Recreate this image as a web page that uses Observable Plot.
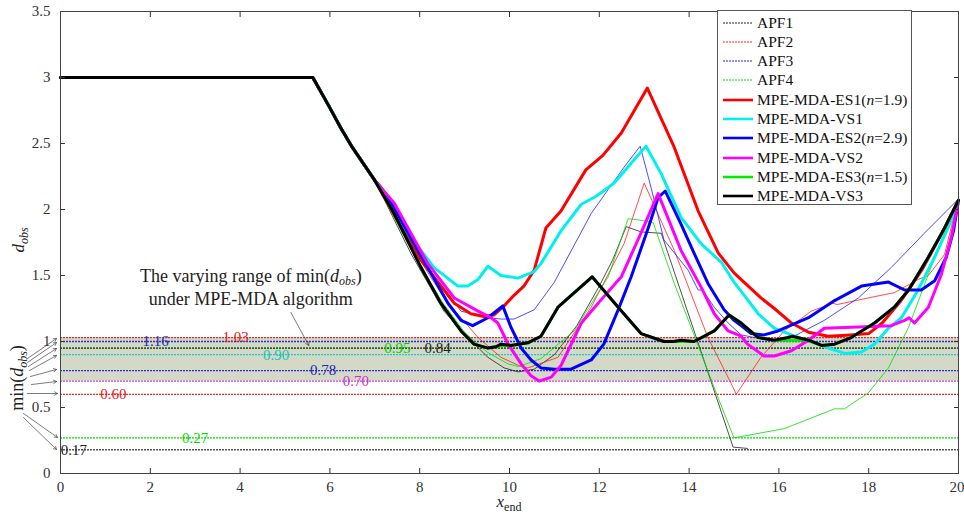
<!DOCTYPE html>
<html><head><meta charset="utf-8">
<script src="https://cdn.jsdelivr.net/npm/d3@7"></script>
<script src="https://cdn.jsdelivr.net/npm/@observablehq/plot@0.6"></script>
<style>
body{margin:0;background:#fff;}
#wrap{position:relative;width:964px;height:517px;}
#wrap svg{overflow:visible;}
#legend{position:absolute;left:717px;top:10px;width:195px;height:195px;border:1px solid #555;background:#fff;font-family:"Liberation Serif",serif;font-size:15.5px;color:#111;box-sizing:border-box;}
.li{position:absolute;left:0;height:19px;display:flex;align-items:center;white-space:nowrap;}
.li svg{margin-left:5px;margin-right:4px;}
</style>
</head><body><div id="wrap"></div>
<script>
// ---------- data ----------
const xTicks = [0,2,4,6,8,10,12,14,16,18,20];
const yTicks = [0,0.5,1,1.5,2,2.5,3,3.5];
const yTickLabels = ["0","0.5","1","1.5","2","2.5","3","3.5"];

const commonPath = [[0,3],[5.62,3],[6.0,2.77],[6.24,2.62],[6.5,2.47],[7.0,2.22]];

const apf1 = [[7.8,1.67],[8.54,1.23],[9.07,1.03],[9.52,0.88],[9.88,0.8],[10.19,0.77],[10.55,0.79],[11.0,0.9],[11.5,1.12],[12.0,1.42],[12.3,1.62],[12.6,1.87],[12.93,1.83],[13.38,1.82],[14.98,0.2],[15.3,0.19]];
const apf2 = [[7.5,1.95],[8.0,1.62],[8.54,1.33],[9.3,1.03],[9.81,0.88],[10.26,0.81],[10.41,0.8],[11.08,0.88],[11.82,1.26],[12.55,1.74],[13.0,2.2],[13.67,1.69],[14.42,1.03],[14.94,0.68],[15.05,0.6],[15.6,0.88],[16.12,1.08],[16.72,1.23],[17.2,1.29],[17.3,1.28],[17.99,1.33],[18.57,1.37],[19.1,1.47],[19.33,1.5],[19.69,1.66],[19.9,1.95],[20,2.07]];
const apf3 = [[7.5,1.93],[8.2,1.55],[8.92,1.23],[9.52,1.18],[9.81,1.17],[10.1,1.17],[10.55,1.24],[11.0,1.45],[11.82,1.97],[12.55,2.32],[12.91,2.48],[13.15,2.17],[13.44,1.77],[13.98,1.54],[14.2,1.39],[14.3,1.39],[14.56,1.26],[14.87,1.14],[15.16,1.05],[15.76,1.01],[16.28,1.03],[17.01,1.16],[17.77,1.33],[18.5,1.56],[19.24,1.82],[20,2.08]];
const apf4 = [[7.8,1.7],[8.5,1.3],[9.0,1.07],[9.5,0.92],[9.97,0.83],[10.2,0.81],[10.7,0.87],[11.44,1.08],[12.2,1.49],[12.64,1.93],[12.9,1.92],[13.2,1.9],[13.67,1.44],[14.65,0.57],[15.0,0.27],[16.12,0.34],[17.24,0.49],[17.46,0.49],[17.99,0.61],[18.44,0.8],[18.89,1.11],[19.33,1.51],[19.62,1.77],[20,2.07]];
const es1 = [[7.5,1.92],[8.0,1.63],[8.2,1.54],[8.77,1.29],[9.14,1.21],[9.43,1.19],[9.65,1.2],[9.88,1.27],[10.1,1.35],[10.32,1.42],[10.55,1.54],[10.81,1.86],[11.15,1.99],[11.7,2.3],[12.08,2.41],[12.49,2.58],[13.07,2.92],[13.67,2.47],[14.2,1.99],[14.65,1.67],[15.0,1.52],[15.6,1.33],[15.9,1.25],[16.28,1.14],[16.66,1.07],[17.1,1.04],[17.6,1.05],[18.0,1.06],[18.3,1.14],[18.7,1.3],[19.2,1.55],[19.6,1.8],[20,2.07]];
const vs1 = [[7.3,2.07],[7.8,1.79],[8.32,1.56],[8.85,1.42],[9.07,1.42],[9.3,1.47],[9.52,1.57],[9.81,1.5],[10.19,1.48],[10.55,1.53],[10.7,1.59],[11.15,1.84],[11.6,2.04],[11.93,2.1],[12.33,2.2],[12.71,2.35],[13.04,2.48],[13.38,2.27],[13.82,1.94],[14.27,1.74],[14.72,1.6],[15.0,1.45],[15.16,1.38],[15.54,1.21],[15.9,1.1],[16.28,1.05],[16.7,1.0],[17.1,0.95],[17.47,0.91],[17.84,0.92],[18.13,0.98],[18.44,1.1],[18.73,1.18],[19.1,1.39],[19.47,1.64],[19.78,1.87],[20,2.07]];
const es2 = [[7.13,2.17],[7.28,2.1],[7.58,1.92],[8.18,1.56],[8.63,1.29],[8.92,1.16],[9.18,1.12],[9.52,1.18],[9.85,1.27],[10.03,1.11],[10.26,0.95],[10.48,0.86],[10.7,0.8],[11.0,0.79],[11.37,0.79],[11.82,0.86],[12.1,0.98],[12.42,1.24],[12.71,1.49],[13.09,1.86],[13.31,2.09],[13.47,2.14],[13.82,1.89],[14.11,1.67],[14.42,1.44],[14.78,1.24],[15.0,1.16],[15.16,1.12],[15.38,1.06],[15.67,1.05],[15.98,1.08],[16.66,1.18],[17.24,1.31],[17.84,1.42],[18.44,1.45],[18.8,1.39],[19.17,1.39],[19.47,1.46],[19.73,1.64],[19.89,1.84],[20,2.07]];
const vs2 = [[7.43,2.05],[8.18,1.59],[8.77,1.33],[9.3,1.23],[9.59,1.18],[9.74,1.14],[9.97,0.98],[10.26,0.83],[10.48,0.74],[10.66,0.70],[10.93,0.73],[11.15,0.82],[11.6,1.14],[12.0,1.3],[12.49,1.49],[12.9,1.8],[13.31,2.12],[13.82,1.69],[14.27,1.41],[14.56,1.21],[14.87,1.08],[15.16,1.04],[15.3,0.98],[15.67,0.89],[15.9,0.89],[16.28,0.93],[16.66,1.01],[17.01,1.1],[17.77,1.11],[18.5,1.12],[18.8,1.16],[18.9,1.18],[19.02,1.14],[19.33,1.26],[19.62,1.51],[19.84,1.79],[20,2.07]];
const vs3 = [[7.43,1.97],[8.03,1.56],[8.47,1.29],[8.92,1.08],[9.21,0.98],[9.52,0.95],[9.7,0.96],[9.81,0.98],[10.03,0.97],[10.41,0.99],[10.7,1.04],[11.08,1.26],[11.84,1.49],[12.42,1.26],[12.93,1.06],[13.44,1.0],[13.65,1.0],[13.82,1.01],[14.11,1.0],[14.56,1.08],[14.89,1.2],[15.16,1.14],[15.54,1.03],[15.9,1.01],[16.2,1.03],[16.3,1.04],[16.66,1.01],[16.95,0.97],[17.24,0.98],[17.61,1.03],[18.13,1.14],[18.57,1.26],[18.89,1.39],[19.33,1.64],[19.69,1.86],[20,2.07]];
const es3 = [[7.43,1.97],[8.03,1.56],[8.47,1.29],[8.92,1.08],[9.21,0.98],[9.52,0.95],[9.81,0.97],[10.03,0.97],[10.41,0.99],[10.7,1.04],[11.08,1.26],[11.84,1.49],[12.42,1.26],[12.93,1.06],[13.44,1.0],[14.11,1.0],[14.56,1.08],[14.89,1.2],[15.16,1.14],[15.54,1.03],[15.9,1.01],[16.66,1.01],[16.95,0.97],[17.24,0.98],[17.61,1.03],[18.13,1.14],[18.57,1.26],[18.89,1.39],[19.33,1.64],[19.69,1.86],[20,2.07]];

const seriesNames = ["APF1","APF2","APF3","APF4","MPE-MDA-ES1(n=1.9)","MPE-MDA-VS1","MPE-MDA-ES2(n=2.9)","MPE-MDA-VS2","MPE-MDA-ES3(n=1.5)","MPE-MDA-VS3"];
const seriesData = [apf1,apf2,apf3,apf4,es1,vs1,es2,vs2,es3,vs3];

// min(d_obs) reference lines
const minLineValues = [1.03,1.0,0.95,0.95,0.90,0.78,0.70,0.60,0.27,0.18];
const minLabelTexts = ["1.03","1.16","0.95","0.84","0.90","0.78","0.70","0.60","0.27","0.17"];
const minLabelX = [3.9,2.12,7.5,8.4,4.8,5.85,6.58,1.18,3.0,0.3];
const bandRange = [0.70,1.03];

// annotation arrows (left fan)
const arrowFromX = [-0.736,-0.736,-0.713,-0.691,-0.669,-0.647,-0.736,-0.825,-0.825];
const arrowFromY = [0.871,0.841,0.811,0.780,0.735,0.674,0.606,0.455,0.424];
const arrowToX = [-0.089,-0.089,-0.089,-0.089,-0.089,-0.089,-0.067,-0.067,-0.089];
const arrowToY = [1.023,0.992,0.947,0.894,0.788,0.697,0.606,0.273,0.182];
const noteArrow = {x1:5.13,y1:1.22,x2:5.53,y2:0.97};
const noteAnchor = {x:4.25, y1:1.495, y2:1.32};

// ---------- styles ----------
const seriesStyle = [
  {c:"#222222",w:0.8},{c:"#ff2020",w:0.8},{c:"#2020ff",w:0.8},{c:"#00dd00",w:0.8},
  {c:"#ff0000",w:3},{c:"#00f0f0",w:3},{c:"#0000ff",w:3},{c:"#ff00ff",w:3},{c:"#00ee00",w:3},{c:"#000000",w:3}
];
const minStyle = ["#e03030","#3030c0","#00cc00","#333333","#20c8c0","#3030c0","#d040d0","#e03030","#00dd00","#555555"];
const labelColors = ["#e02020","#2828b0","#00cc00","#222222","#20c0b8","#2828b0","#d030d0","#e02020","#00dd00","#222222"];

// ---------- build ----------
const lineMarks = seriesData.map((pts,i) => {
  const rows = commonPath.concat(pts).map(([x,y]) => ({x,y}));
  return Plot.line(rows, {x:"x", y:"y", stroke: seriesStyle[i].c, strokeWidth: seriesStyle[i].w, strokeLinejoin:"round"});
});
const minRows = minLineValues.map((v,i) => ({v, c:minStyle[i]}));
const labelRows = minLabelTexts.map((t,i) => ({t, x:minLabelX[i], y:minLineValues[i], c:labelColors[i]}));
const arrowRows = arrowFromX.map((x1,i) => ({x1, y1:arrowFromY[i], x2:arrowToX[i], y2:arrowToY[i]}));
const lastX = xTicks[xTicks.length-1];

const chart = Plot.plot({
  width:964, height:517,
  marginLeft:60, marginRight:6, marginTop:11, marginBottom:44,
  x:{domain:[xTicks[0], lastX]},
  y:{domain:[yTicks[0], yTicks[yTicks.length-1]]},
  style:{fontFamily:"'Liberation Serif', serif", fontSize:"15px", color:"#333", background:"#fff", overflow:"visible"},
  marks:[
    Plot.rect([bandRange], {x1:()=>xTicks[0], x2:()=>lastX, y1:d=>d[0], y2:d=>d[1], fill:"#d3d9c6"}),
    Plot.ruleY(minRows, {y:"v", stroke:"c", strokeWidth:1.3, strokeDasharray:"2,1"}),
    Plot.text(labelRows, {x:"x", y:"y", text:"t", fill:"c", fontSize:15}),
    ...lineMarks,
    Plot.arrow(arrowRows, {x1:"x1", y1:"y1", x2:"x2", y2:"y2", stroke:"#444", strokeWidth:0.7, headLength:7}),
    Plot.arrow([noteArrow], {x1:"x1", y1:"y1", x2:"x2", y2:"y2", stroke:"#444", strokeWidth:0.7, headLength:8}),
    Plot.axisX({ticks:xTicks.slice(0,-1), tickSize:-5, tickPadding:13, label:null}),
    Plot.axisX({ticks:[lastX], tickSize:-5, tickPadding:13, textAnchor:"end", dx:6, label:null}),
    Plot.axisX({anchor:"top", ticks:xTicks, tickSize:-5, tickFormat:()=>"", label:null}),
    Plot.axisY({ticks:yTicks, tickSize:-5, tickPadding:15, tickFormat:(d)=>yTickLabels[yTicks.indexOf(d)], label:null}),
    Plot.axisY({anchor:"right", ticks:yTicks, tickSize:-5, tickFormat:()=>"", label:null}),
    Plot.frame({stroke:"#444"})
  ]
});
document.getElementById("wrap").appendChild(chart);

// extra text with subscripts
const sx = chart.scale("x"), sy = chart.scale("y");
const svg = d3.select(chart);
const serif = "'Liberation Serif', serif";
// y label
const yl = svg.append("text").attr("transform","translate(24,240) rotate(-90)").attr("text-anchor","middle")
  .attr("font-family",serif).attr("font-size",17).attr("fill","#222");
yl.append("tspan").attr("font-style","italic").text("d");
yl.append("tspan").attr("font-style","italic").attr("font-size",12).attr("dy",4).text("obs");
// x label
const xl = svg.append("text").attr("x",sx.apply(10)).attr("y",507).attr("text-anchor","middle")
  .attr("font-family",serif).attr("font-size",17).attr("fill","#222");
xl.append("tspan").attr("font-style","italic").text("x");
xl.append("tspan").attr("font-size",12).attr("dy",4).text("end");
// min(d_obs) label
const ml = svg.append("text").attr("transform","translate(23,378) rotate(-90)").attr("text-anchor","middle")
  .attr("font-family",serif).attr("font-size",18).attr("fill","#222");
ml.append("tspan").text("min(");
ml.append("tspan").attr("font-style","italic").text("d");
ml.append("tspan").attr("font-style","italic").attr("font-size",12).attr("dy",4).text("obs");
ml.append("tspan").attr("dy",-4).text(")");
// note
const n1 = svg.append("text").attr("x",sx.apply(noteAnchor.x)).attr("y",sy.apply(noteAnchor.y1)).attr("dy","0.35em")
  .attr("text-anchor","middle").attr("font-family",serif).attr("font-size",18).attr("fill","#222");
n1.append("tspan").text("The varying range of min(");
n1.append("tspan").attr("font-style","italic").text("d");
n1.append("tspan").attr("font-style","italic").attr("font-size",12).attr("dy",3).text("obs");
n1.append("tspan").attr("dy",-3).text(")");
svg.append("text").attr("x",sx.apply(noteAnchor.x)).attr("y",sy.apply(noteAnchor.y2)).attr("dy","0.35em")
  .attr("text-anchor","middle").attr("font-family",serif).attr("font-size",18).attr("fill","#222").text("under MPE-MDA algorithm");

// legend overlay
const lg = document.createElement("div");
lg.id = "legend";
seriesNames.forEach((name,i) => {
  const row = document.createElement("div");
  row.className = "li";
  row.style.top = (2 + i*19.3) + "px";
  const st = seriesStyle[i];
  const dash = i < 4 ? ' stroke-dasharray="2,1"' : '';
  row.innerHTML = `<svg width="30" height="6"><line x1="0" y1="3" x2="30" y2="3" stroke="${st.c}" stroke-width="${st.w < 1 ? 1 : 2.6}"${dash}/></svg>`;
  const span = document.createElement("span");
  const m = name.match(/^(.*)\(n=(.*)\)$/);
  if (m) span.innerHTML = `${m[1]}(<i>n</i>=${m[2]})`; else span.textContent = name;
  row.appendChild(span);
  lg.appendChild(row);
});
document.getElementById("wrap").appendChild(lg);
</script>
</body></html>
